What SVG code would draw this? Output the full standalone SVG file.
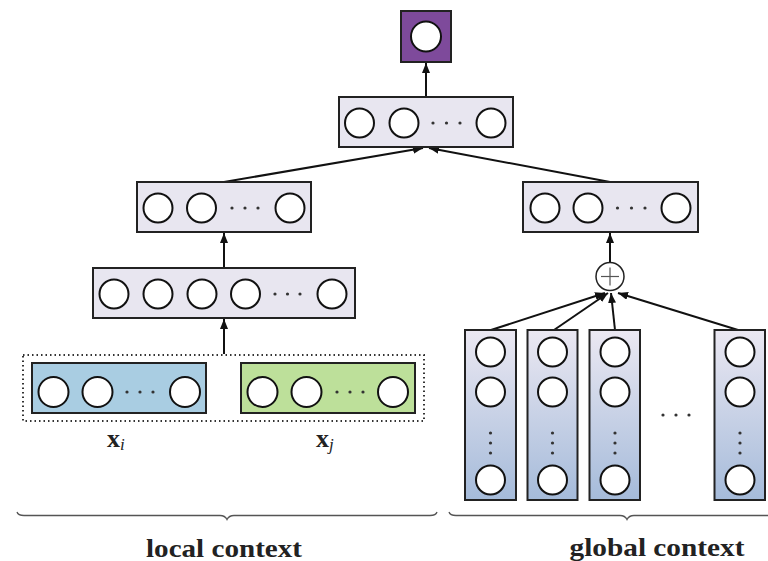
<svg xmlns="http://www.w3.org/2000/svg" width="768" height="561" viewBox="0 0 768 561">
<defs>
<marker id="ah" viewBox="0 0 10 8" refX="10" refY="4" markerWidth="10" markerHeight="8" markerUnits="userSpaceOnUse" orient="auto">
<path d="M0,0 L10,4 L0,8 Z" fill="#111"/>
</marker>
<linearGradient id="colg" x1="0" y1="0" x2="0" y2="1">
<stop offset="0" stop-color="#ebe8f2"/>
<stop offset="1" stop-color="#a5bbda"/>
</linearGradient>
<style>
.box{fill:#e8e6f0;stroke:#222;stroke-width:2}
.col{fill:url(#colg);stroke:#222;stroke-width:2}
.n{fill:#fff;stroke:#111;stroke-width:2}
.d{fill:#333}
.c{stroke:#111;stroke-width:2;fill:none}
.brace{stroke:#555;stroke-width:1.3;fill:none}
.lbl{font-family:"Liberation Serif",serif;font-weight:bold;font-size:25px;fill:#222}
.x{font-family:"Liberation Serif",serif;font-size:26px;fill:#222}
</style>
</defs>
<rect width="768" height="561" fill="#fff"/>

<g id="connectors">
<line class="c" x1="426" y1="97" x2="426" y2="63" marker-end="url(#ah)"/>
<line class="c" x1="224" y1="182" x2="423" y2="148" marker-end="url(#ah)"/>
<line class="c" x1="610" y1="182" x2="429" y2="148" marker-end="url(#ah)"/>
<line class="c" x1="224" y1="267" x2="224" y2="233" marker-end="url(#ah)"/>
<line class="c" x1="224" y1="354" x2="224" y2="319" marker-end="url(#ah)"/>
<line class="c" x1="610" y1="262" x2="610" y2="233" marker-end="url(#ah)"/>
<line class="c" x1="491" y1="330" x2="605" y2="293" marker-end="url(#ah)"/>
<line class="c" x1="554" y1="330" x2="608" y2="293" marker-end="url(#ah)"/>
<line class="c" x1="615" y1="330" x2="611" y2="293" marker-end="url(#ah)"/>
<line class="c" x1="738" y1="330" x2="618" y2="293" marker-end="url(#ah)"/>
</g>

<g id="output">
<rect x="401" y="11" width="50" height="51" fill="#7e4a9b" stroke="#222" stroke-width="2"/>
<circle class="n" cx="426" cy="36.5" r="15"/>
</g>

<g id="top-layer">
<rect class="box" x="339" y="97" width="174" height="50"/>
<circle class="n" cx="359.5" cy="123" r="14.5"/>
<circle class="n" cx="404" cy="123" r="14.5"/>
<circle class="d" cx="433" cy="123" r="1.6"/>
<circle class="d" cx="446.5" cy="123" r="1.6"/>
<circle class="d" cx="460" cy="123" r="1.6"/>
<circle class="n" cx="491" cy="123" r="14.5"/>
</g>

<g id="local-hidden2">
<rect class="box" x="137" y="182" width="174" height="50"/>
<circle class="n" cx="158" cy="208" r="14.5"/>
<circle class="n" cx="201.5" cy="208" r="14.5"/>
<circle class="d" cx="232" cy="208" r="1.6"/>
<circle class="d" cx="245" cy="208" r="1.6"/>
<circle class="d" cx="258" cy="208" r="1.6"/>
<circle class="n" cx="290" cy="208" r="14.5"/>
</g>

<g id="global-hidden">
<rect class="box" x="523" y="182" width="175" height="50"/>
<circle class="n" cx="545" cy="208" r="14.5"/>
<circle class="n" cx="588" cy="208" r="14.5"/>
<circle class="d" cx="617.5" cy="208" r="1.6"/>
<circle class="d" cx="631.5" cy="208" r="1.6"/>
<circle class="d" cx="645" cy="208" r="1.6"/>
<circle class="n" cx="676" cy="208" r="14.5"/>
</g>

<g id="local-hidden1">
<rect class="box" x="93" y="268" width="262" height="50"/>
<circle class="n" cx="114" cy="294" r="14.5"/>
<circle class="n" cx="158" cy="294" r="14.5"/>
<circle class="n" cx="202" cy="294" r="14.5"/>
<circle class="n" cx="245.5" cy="294" r="14.5"/>
<circle class="d" cx="275" cy="294" r="1.6"/>
<circle class="d" cx="287.5" cy="294" r="1.6"/>
<circle class="d" cx="300" cy="294" r="1.6"/>
<circle class="n" cx="332" cy="294" r="14.5"/>
</g>

<g id="plus">
<circle cx="610" cy="276.5" r="14" fill="#fff" stroke="#222" stroke-width="1.5"/>
<line x1="601" y1="276.5" x2="619" y2="276.5" stroke="#555" stroke-width="1.2"/>
<line x1="610" y1="267.5" x2="610" y2="285.5" stroke="#555" stroke-width="1.2"/>
</g>

<g id="local-input">
<rect x="23" y="355" width="401" height="66" fill="none" stroke="#333" stroke-width="2" stroke-dasharray="1.5 3"/>
</g>

<g id="xi">
<rect x="32" y="363" width="174" height="50" fill="#a9cde2" stroke="#222" stroke-width="2"/>
<circle class="n" cx="53.5" cy="392" r="15"/>
<circle class="n" cx="97.5" cy="392" r="15"/>
<circle class="d" cx="127" cy="392" r="1.6"/>
<circle class="d" cx="140" cy="392" r="1.6"/>
<circle class="d" cx="153" cy="392" r="1.6"/>
<circle class="n" cx="185" cy="392" r="15"/>
<text class="x" x="107" y="447"><tspan font-weight="bold">x</tspan><tspan font-style="italic" font-size="17" dy="3">i</tspan></text>
</g>

<g id="xj">
<rect x="241" y="363" width="174" height="50" fill="#bde09a" stroke="#222" stroke-width="2"/>
<circle class="n" cx="262.5" cy="392" r="15"/>
<circle class="n" cx="306.5" cy="392" r="15"/>
<circle class="d" cx="337" cy="392" r="1.6"/>
<circle class="d" cx="350" cy="392" r="1.6"/>
<circle class="d" cx="363" cy="392" r="1.6"/>
<circle class="n" cx="393" cy="392" r="15"/>
<text class="x" x="316" y="447"><tspan font-weight="bold">x</tspan><tspan font-style="italic" font-size="17" dy="3">j</tspan></text>
</g>

<g id="col1">
<rect class="col" x="465" y="330" width="51" height="170"/>
<circle class="n" cx="490.5" cy="352" r="14.5"/>
<circle class="n" cx="490.5" cy="392" r="14.5"/>
<circle class="d" cx="490.5" cy="433" r="1.6"/>
<circle class="d" cx="490.5" cy="443" r="1.6"/>
<circle class="d" cx="490.5" cy="453" r="1.6"/>
<circle class="n" cx="490.5" cy="480" r="14.5"/>
</g>
<g id="col2">
<rect class="col" x="527.5" y="330" width="50" height="170"/>
<circle class="n" cx="552.5" cy="352" r="14.5"/>
<circle class="n" cx="552.5" cy="392" r="14.5"/>
<circle class="d" cx="552.5" cy="433" r="1.6"/>
<circle class="d" cx="552.5" cy="443" r="1.6"/>
<circle class="d" cx="552.5" cy="453" r="1.6"/>
<circle class="n" cx="552.5" cy="480" r="14.5"/>
</g>
<g id="col3">
<rect class="col" x="589.5" y="330" width="50.5" height="170"/>
<circle class="n" cx="615" cy="352" r="14.5"/>
<circle class="n" cx="615" cy="392" r="14.5"/>
<circle class="d" cx="615" cy="433" r="1.6"/>
<circle class="d" cx="615" cy="443" r="1.6"/>
<circle class="d" cx="615" cy="453" r="1.6"/>
<circle class="n" cx="615" cy="480" r="14.5"/>
</g>
<g id="col-dots">
<circle class="d" cx="663" cy="415" r="1.6"/>
<circle class="d" cx="676" cy="415" r="1.6"/>
<circle class="d" cx="689" cy="415" r="1.6"/>
</g>
<g id="col4">
<rect class="col" x="714.5" y="330" width="50.5" height="170"/>
<circle class="n" cx="740" cy="352" r="14.5"/>
<circle class="n" cx="740" cy="392" r="14.5"/>
<circle class="d" cx="740" cy="433" r="1.6"/>
<circle class="d" cx="740" cy="443" r="1.6"/>
<circle class="d" cx="740" cy="453" r="1.6"/>
<circle class="n" cx="740" cy="480" r="14.5"/>
</g>

<g id="local-brace">
<path class="brace" d="M17,512 Q18,515.5 24,515.5 L220,515.5 Q225,515.5 227,519.5 Q229,515.5 234,515.5 L430,515.5 Q436,515.5 437,512"/>
<text class="lbl" x="224" y="557" text-anchor="middle" textLength="156" lengthAdjust="spacingAndGlyphs">local context</text>
</g>
<g id="global-brace">
<path class="brace" d="M449,512 Q450,515.5 456,515.5 L620,515.5 Q625,515.5 627,519.5 Q629,515.5 634,515.5 L768,515.5"/>
<text class="lbl" x="657" y="556" text-anchor="middle" textLength="175" lengthAdjust="spacingAndGlyphs">global context</text>
</g>
</svg>
